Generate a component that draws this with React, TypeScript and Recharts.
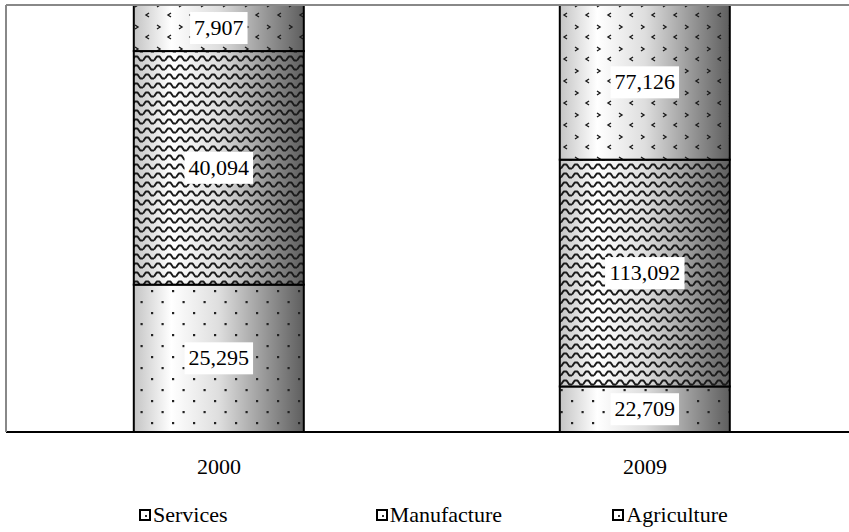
import { BarChart, Bar, XAxis, YAxis, ReferenceLine, LabelList, Legend } from "recharts"

const years = ["2000", "2009"]
const services = [25295, 22709]
const manufacture = [40094, 113092]
const agriculture = [7907, 77126]

const seriesNames = ["Services", "Manufacture", "Agriculture"]

const data = years.map((year, i) => ({
    year,
    services: services[i],
    manufacture: manufacture[i],
    agriculture: agriculture[i],
}))

const FONT = "'Times New Roman', 'Liberation Serif', 'DejaVu Serif', serif"

const makeShape = (patternId: string) => (props: any) => {
    const { x, y, width, height } = props
    if (!width || !height) return null
    return (
        <g>
            <rect x={x} y={y} width={width} height={height} fill="url(#barGrad)" />
            <rect x={x} y={y} width={width} height={height} fill={`url(#${patternId})`} />
            <rect x={x} y={y} width={width} height={height} fill="none" stroke="#000" strokeWidth={2} />
        </g>
    )
}

const renderLabel = (props: any) => {
    const { x, y, width, height, value } = props
    const text = Number(value).toLocaleString("en-US")
    const fs = 22
    const w = text.replace(/,/g, "").length * fs * 0.5 + (text.includes(",") ? fs * 0.25 : 0) + 8
    const cx = x + width / 2
    const cy = y + height / 2
    return (
        <g>
            <rect x={cx - w / 2} y={cy - 16} width={w} height={32} fill="#fff" />
            <text x={cx} y={cy + 7} textAnchor="middle" style={{ fontFamily: FONT }} fontSize={fs} fill="#000">
                {text}
            </text>
        </g>
    )
}

const LegendIcon = () => (
    <svg width={12} height={12} style={{ marginRight: 2 }}>
        <rect x={1} y={1} width={10} height={10} fill="#fff" stroke="#000" strokeWidth={2} />
        <rect x={6} y={6} width={2} height={2} fill="#333" />
    </svg>
)

const renderLegend = (props: any) => {
    const payload = [...(props.payload || [])].sort(
        (a: any, b: any) => seriesNames.indexOf(a.value) - seriesNames.indexOf(b.value)
    )
    return (
        <div style={{ display: "flex", paddingLeft: 139, fontFamily: FONT, fontSize: 22, color: "#000" }}>
            {payload.map((p: any) => (
                <div key={p.value} style={{ width: 247, display: "flex", alignItems: "center" }}>
                    <LegendIcon />
                    <span>{p.value}</span>
                </div>
            ))}
        </div>
    )
}

export default function App() {
    return (
        <div style={{ position: "absolute", left: 0, top: 0, width: 849, height: 532, background: "#fff", fontFamily: FONT }}>
            <BarChart
                width={849}
                height={532}
                data={data}
                stackOffset="expand"
                barCategoryGap="30%"
                margin={{ top: 5, right: -9, left: 0, bottom: 0 }}
            >
                <defs>
                    <linearGradient id="barGrad" x1="0" y1="0" x2="1" y2="0">
                        <stop offset="0" stopColor="#c4c4c4" />
                        <stop offset="0.22" stopColor="#ffffff" />
                        <stop offset="0.5" stopColor="#dedede" />
                        <stop offset="1" stopColor="#5e5e5e" />
                    </linearGradient>
                    <pattern id="patDots" width={21} height={22} patternUnits="userSpaceOnUse">
                        <rect x={4} y={4} width={2.2} height={2.2} fill="#222" />
                        <rect x={14.5} y={15} width={2.2} height={2.2} fill="#222" />
                    </pattern>
                    <pattern id="patWave" width={11} height={9} patternUnits="userSpaceOnUse">
                        <path d="M0 6.5 L2.75 2.5 L5.5 2.5 L8.25 6.5 L11 6.5" fill="none" stroke="#1a1a1a" strokeWidth={2} strokeLinejoin="round" />
                    </pattern>
                    <pattern id="patChev" width={22} height={22} patternUnits="userSpaceOnUse">
                        <path d="M3 3 L6 5 L3 7" fill="none" stroke="#1a1a1a" strokeWidth={1.4} />
                        <path d="M17 13 L14 15 L17 17" fill="none" stroke="#1a1a1a" strokeWidth={1.4} />
                    </pattern>
                </defs>
                <XAxis
                    xAxisId="num"
                    type="number"
                    domain={[0, 2]}
                    ticks={[0, 1, 2]}
                    allowDataOverflow
                    height={0}
                    tick={false}
                    axisLine={false}
                    tickLine={{ stroke: "#000", strokeWidth: 2 }}
                    tickSize={6}
                />
                <XAxis
                    xAxisId="cat"
                    dataKey="year"
                    height={70}
                    axisLine={{ stroke: "#000", strokeWidth: 2 }}
                    tickLine={false}
                    tickMargin={20}
                    tick={{ fontFamily: FONT, fontSize: 22, fill: "#000", style: { fontFamily: FONT } }}
                />
                <YAxis
                    width={6}
                    domain={[0, 1]}
                    tick={false}
                    tickLine={false}
                    axisLine={{ stroke: "#888", strokeWidth: 2 }}
                />
                <ReferenceLine xAxisId="cat" y={1} stroke="#888" strokeWidth={2} />
                <Legend
                    verticalAlign="bottom"
                    content={renderLegend}
                    wrapperStyle={{ position: "absolute", left: 0, top: 502, width: 849, height: 30 }}
                />
                <Bar xAxisId="cat" dataKey="services" name={seriesNames[0]} stackId="a" shape={makeShape("patDots")} isAnimationActive={false}>
                    <LabelList dataKey="services" content={renderLabel} />
                </Bar>
                <Bar xAxisId="cat" dataKey="manufacture" name={seriesNames[1]} stackId="a" shape={makeShape("patWave")} isAnimationActive={false}>
                    <LabelList dataKey="manufacture" content={renderLabel} />
                </Bar>
                <Bar xAxisId="cat" dataKey="agriculture" name={seriesNames[2]} stackId="a" shape={makeShape("patChev")} isAnimationActive={false}>
                    <LabelList dataKey="agriculture" content={renderLabel} />
                </Bar>
            </BarChart>
        </div>
    )
}
